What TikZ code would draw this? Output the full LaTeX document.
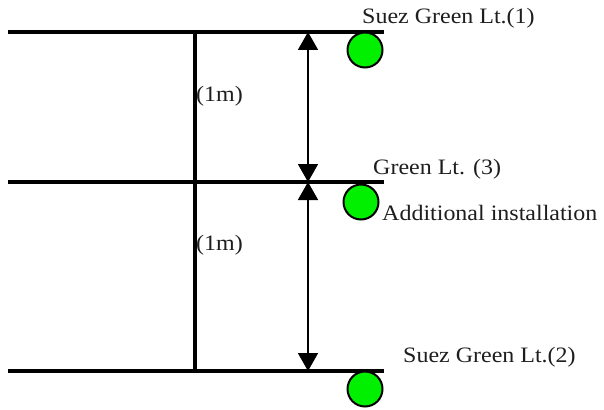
\documentclass[tikz,border=0pt]{standalone}
\usepackage{fontspec}
\newfontfamily\lblfont[FakeStretch=1.09]{Liberation Serif}
\usetikzlibrary{arrows.meta}
\definecolor{lampgreen}{RGB}{0,240,0}
\definecolor{ink}{RGB}{30,30,30}
\tikzset{
  rail/.style={line width=4pt},
  dim/.style={line width=1.8pt,{Triangle[width=20pt,length=18pt]}-{Triangle[width=20pt,length=18pt]}},
  lamp/.style={circle,draw=black,line width=2pt,fill=lampgreen,minimum size=35pt,inner sep=0pt},
  lbl/.style={font=\lblfont\fontsize{22}{25}\selectfont,text=ink,inner sep=0pt,anchor=west}
}
\begin{document}
\begin{tikzpicture}[x=1pt,y=-1pt]
\useasboundingbox (0,0) rectangle (604,409);
% rails
\coordinate (t0) at (8,32);   \coordinate (t1) at (384,32);
\coordinate (m0) at (8,182);  \coordinate (m1) at (384,182);
\coordinate (b0) at (8,371);  \coordinate (b1) at (384,371);
\draw[rail] (t0) -- (t1);
\draw[rail] (m0) -- (m1);
\draw[rail] (b0) -- (b1);
% vertical post
\coordinate (p0) at (195,30); \coordinate (p1) at (195,373);
\draw[rail] (p0) -- (p1);
% spacing dimensions
\coordinate (at) at (308,32); \coordinate (am) at (308,182); \coordinate (ab) at (308,371);
\draw[dim] (am) -- (at);
\draw[dim] (am) -- (ab);
% lamps
\node[lamp] (l1) at (365,50) {};
\node[lamp] (l3) at (361,202) {};
\node[lamp] (l2) at (365,389) {};
% labels
\node[lbl] (n1) at (362,18) {Suez Green Lt.(1)};
\node[lbl] (n3) at (373,169) {Green Lt. (3)};
\node[lbl] (n3b) at (382,213) {Additional installation};
\node[lbl] (n2) at (403,357) {Suez Green Lt.(2)};
\node[lbl] (d1) at (196,96) {(1m)};
\node[lbl] (d2) at (196,245) {(1m)};
\end{tikzpicture}
\end{document}
